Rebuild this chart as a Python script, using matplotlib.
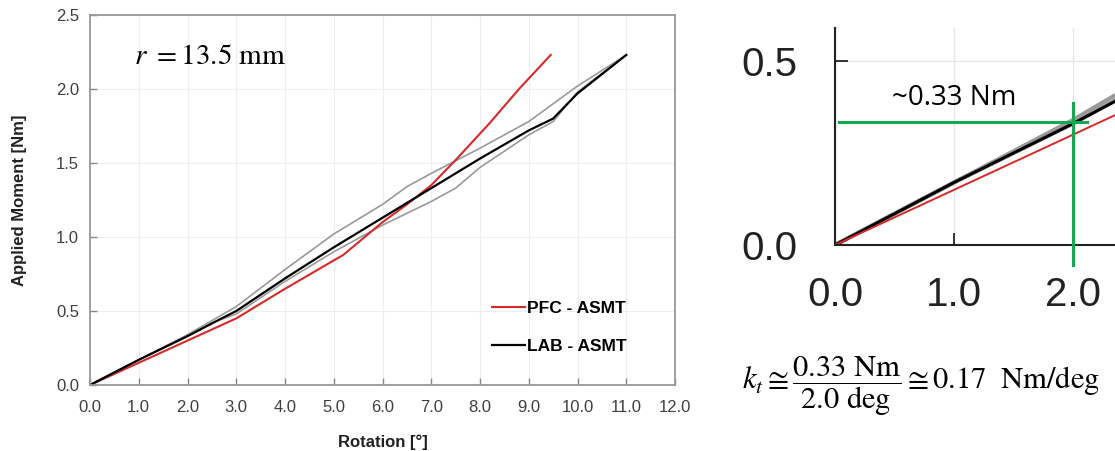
import matplotlib.pyplot as plt
import numpy as np
plt.rcParams['font.family'] = ['Liberation Sans', 'DejaVu Sans']
plt.rcParams['mathtext.fontset'] = 'stix'

# PFC - ASMT (red)
pfc_x = [0.0, 1.0, 2.0, 3.0, 4.0, 5.2, 6.0, 6.5, 7.0, 7.5, 8.2, 8.8, 9.45]
pfc_y = [0.0, 0.15, 0.30, 0.45, 0.65, 0.88, 1.10, 1.22, 1.35, 1.52, 1.77, 2.00, 2.23]

# LAB - ASMT mean (black)
lab_x = [0.0, 1.0, 2.0, 2.7, 3.0, 4.0, 5.0, 6.0, 7.0, 8.0, 9.0, 9.5, 10.0, 11.0]
lab_y = [0.0, 0.17, 0.33, 0.45, 0.50, 0.72, 0.93, 1.13, 1.33, 1.53, 1.72, 1.80, 1.97, 2.23]

# LAB envelope (grey)
up_x = [0.0, 1.0, 2.0, 3.0, 4.0, 5.0, 6.0, 6.5, 7.0, 8.0, 9.0, 10.0, 11.0]
up_y = [0.0, 0.17, 0.34, 0.53, 0.78, 1.02, 1.22, 1.34, 1.43, 1.60, 1.78, 2.02, 2.23]
lo_x = [0.0, 1.0, 2.0, 2.5, 3.0, 4.0, 5.0, 6.0, 7.0, 7.5, 8.0, 9.0, 9.5, 10.0, 11.0]
lo_y = [0.0, 0.17, 0.33, 0.42, 0.48, 0.70, 0.90, 1.08, 1.24, 1.33, 1.47, 1.69, 1.78, 1.98, 2.23]

xticks = np.arange(0, 12.01, 1.0)
yticks = np.arange(0, 2.51, 0.5)

red = '#d82a2a'
grey = '#9a9a9a'
green = '#17a84f'

fig = plt.figure(figsize=(11.15, 4.51), dpi=100)

# ---- left chart
ax = fig.add_axes([90/1115, 66/451, 585/1115, 370/451])
ax.plot(up_x, up_y, color=grey, lw=1.2)
ax.plot(lo_x, lo_y, color=grey, lw=1.2)
ax.plot(pfc_x, pfc_y, color=red, lw=1.5, label='PFC - ASMT')
ax.plot(lab_x, lab_y, color='black', lw=1.6, label='LAB - ASMT')
ax.set_xlim(0, 12)
ax.set_ylim(0, 2.5)
ax.set_xticks(xticks)
ax.set_yticks(yticks)
ax.set_xticklabels(['%.1f' % v for v in xticks])
ax.set_yticklabels(['%.1f' % v for v in yticks])
ax.tick_params(direction='in', length=5, width=1, color='#888888',
               labelsize=12, labelcolor='#404040', pad=8)
ax.tick_params(axis='x', pad=11)
ax.grid(True, color='#eeeeee', lw=0.8)
ax.set_axisbelow(True)
for s in ax.spines.values():
    s.set_color('#999999')
    s.set_linewidth(1.3)
ax.set_xlabel('Rotation [°]', fontsize=12, fontweight='bold', color='#222222', labelpad=14)
ax.set_ylabel('Applied Moment [Nm]', fontsize=12, fontweight='bold', color='#222222', labelpad=21)
ax.text(0.9, 2.22, r'$r\ = 13.5\ \mathrm{mm}$', fontsize=21, va='center', ha='left')
ax.legend(loc='upper left', bbox_to_anchor=(0.66, 0.27), frameon=False,
          handlelength=1.9, handletextpad=0.15, labelspacing=1.3,
          prop={'weight': 'bold', 'size': 12.5})

# ---- right zoomed chart
ax2 = fig.add_axes([835/1115, 206/451, 280/1115, 217/451])
ax2.plot(up_x, up_y, color=grey, lw=3.0)
ax2.plot(lo_x, lo_y, color=grey, lw=3.0)
ax2.plot(lab_x, lab_y, color='black', lw=2.2)
ax2.plot(pfc_x, pfc_y, color=red, lw=1.4)
ax2.set_xlim(0, 2.353)
ax2.set_ylim(0, 0.59)
ax2.set_xticks([0.0, 1.0, 2.0])
ax2.set_yticks([0.0, 0.5])
ax2.set_xticklabels(['0.0', '1.0', '2.0'])
ax2.set_yticklabels(['0.0', '0.5'])
ax2.tick_params(direction='in', length=9, width=1.3, labelsize=29, color='#222222',
                labelcolor='#222222')
ax2.tick_params(axis='x', pad=22)
ax2.tick_params(axis='y', pad=27)
ax2.grid(True, color='#e6e6e6', lw=1)
ax2.set_axisbelow(True)
ax2.spines['top'].set_visible(False)
ax2.spines['right'].set_visible(False)
for k in ['left', 'bottom']:
    ax2.spines[k].set_color('#222222')
    ax2.spines[k].set_linewidth(1.5)

ax2.plot([0.034, 2.12], [0.334, 0.334], color=green, lw=2.2, clip_on=False, zorder=5)
ax2.plot([2.0, 2.0], [-0.054, 0.386], color=green, lw=2.2, clip_on=False, zorder=5)
ax2.text(1.0, 0.40, '~0.33 Nm', fontsize=20, ha='center', va='center', family=['Open Sans', 'DejaVu Sans'])

fig.text(742/1115, 1 - 387/451,
         r'$k_t \cong \dfrac{0.33\ \mathrm{Nm}}{2.0\ \mathrm{deg}} \cong 0.17\ \ \mathrm{Nm/deg}$',
         fontsize=22, ha='left', va='center')

fig.savefig('out.png', dpi=100)
